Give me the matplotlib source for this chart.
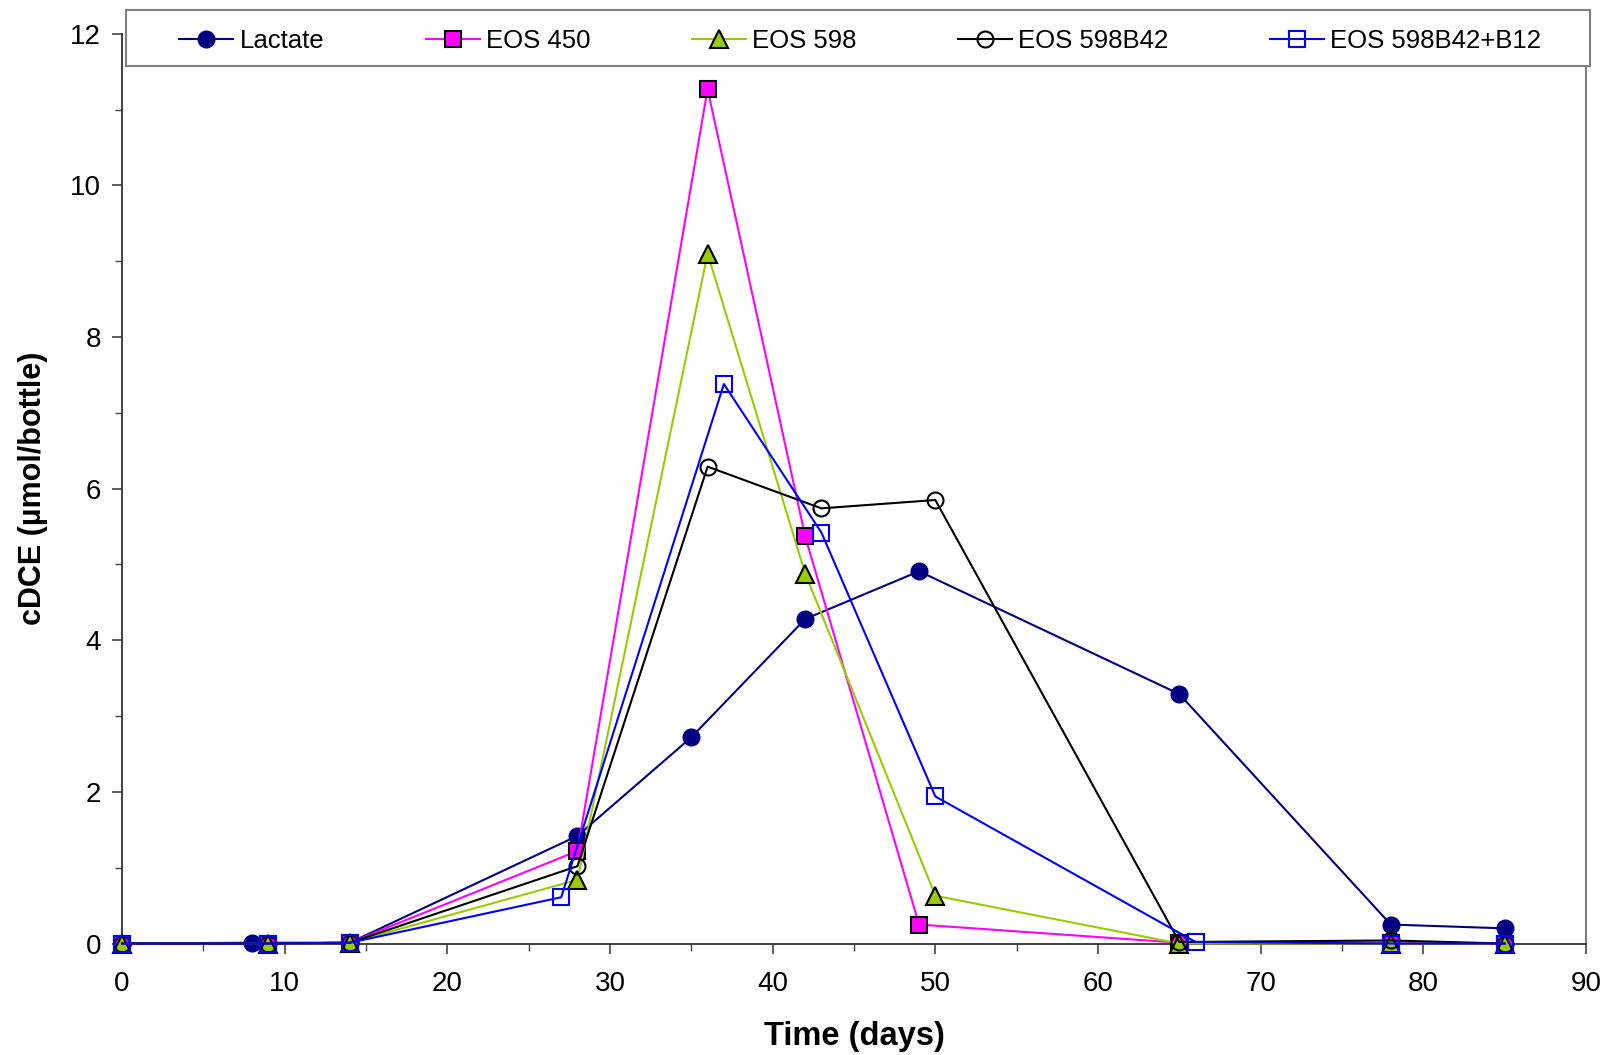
import matplotlib
matplotlib.use("Agg")
import matplotlib.pyplot as plt
from matplotlib.ticker import MultipleLocator
from matplotlib.patches import Rectangle

plt.rcParams['font.family'] = ['Liberation Sans', 'DejaVu Sans']

# Data
lactate_x = [0, 8, 14, 28, 35, 42, 49, 65, 78, 85]
lactate_y = [0.0, 0.01, 0.01, 1.42, 2.72, 4.28, 4.91, 3.29, 0.25, 0.20]

eos450_x = [0, 9, 14, 28, 36, 42, 49, 65, 78, 85]
eos450_y = [0.0, 0.0, 0.01, 1.22, 11.27, 5.37, 0.25, 0.01, 0.01, 0.0]

eos598_x = [0, 9, 14, 28, 36, 42, 50, 65, 78, 85]
eos598_y = [0.0, 0.0, 0.01, 0.84, 9.10, 4.88, 0.63, 0.0, 0.0, 0.0]

b42_x = [0, 9, 14, 28, 36, 43, 50, 65, 78, 85]
b42_y = [0.0, 0.0, 0.01, 1.02, 6.29, 5.74, 5.85, 0.02, 0.04, 0.0]

b12_x = [0, 9, 14, 27, 37, 43, 50, 66, 78, 85]
b12_y = [0.0, 0.0, 0.01, 0.61, 7.38, 5.42, 1.94, 0.02, 0.0, 0.0]

labels = ["Lactate", "EOS 450", "EOS 598", "EOS 598B42", "EOS 598B42+B12"]

W, H = 1608, 1055
fig = plt.figure(figsize=(W/100, H/100), dpi=100)
ax = fig.add_axes([122/W, 111.5/H, (1586-122)/W, (943.5-33.8)/H])

lw = 1.5
ax.plot(lactate_x, lactate_y, color='#000080', lw=lw, marker='o', ms=12,
        mfc='#000080', mec='#000080', label=labels[0], clip_on=False, zorder=3)
ax.plot(eos450_x, eos450_y, color='#FF00FF', lw=lw, marker='s', ms=11.5,
        mfc='#FF00FF', mec='black', mew=1.5, label=labels[1], clip_on=False, zorder=3)
ax.plot(eos598_x, eos598_y, color='#99CC00', lw=lw, marker='^', ms=12.5,
        mfc='#99CC00', mec='black', mew=1.5, label=labels[2], clip_on=False, zorder=3)
ax.plot(b42_x, b42_y, color='black', lw=lw, marker='o', ms=11.5,
        mfc='none', mec='black', mew=1.5, label=labels[3], clip_on=False, zorder=3)
ax.plot(b12_x, b12_y, color='#0000FF', lw=lw, marker='s', ms=11.5,
        mfc='none', mec='#0000FF', mew=1.5, label=labels[4], clip_on=False, zorder=3)

ax.set_xlim(0, 90)
ax.set_ylim(0, 12)
ax.xaxis.set_major_locator(MultipleLocator(10))
ax.xaxis.set_minor_locator(MultipleLocator(5))
ax.yaxis.set_major_locator(MultipleLocator(2))
ax.yaxis.set_minor_locator(MultipleLocator(1))
ax.tick_params(which='major', direction='out', length=7, width=1.2, labelsize=20,
               color='#444444')
ax.tick_params(axis='x', which='major', pad=13)
ax.tick_params(axis='y', which='major', pad=8)
ax.tick_params(which='minor', direction='out', length=5, width=1.0, color='#444444')

for s in ['left', 'bottom']:
    ax.spines[s].set_linewidth(1.3)
    ax.spines[s].set_color('#333333')
ax.spines['right'].set_color('#808080')
ax.spines['right'].set_linewidth(1.5)
ax.spines['top'].set_visible(False)

ax.set_xlabel("Time (days)", fontsize=23.5, fontweight='bold', labelpad=17)
ax.set_ylabel("cDCE (\u00b5mol/bottle)", fontsize=22, fontweight='bold', labelpad=16)

# legend frame
fig.patches.append(Rectangle((126/W, 1-66/H), (1590-126)/W, 56/H,
                             transform=fig.transFigure, facecolor='white',
                             edgecolor='#808080', linewidth=1.5, zorder=5))
leg = fig.legend(loc='center', ncol=5, mode='expand',
                 bbox_to_anchor=(179.5/W, 1-69/H, (1541-179.5)/W, 56/H),
                 fontsize=18.5, frameon=False, handlelength=2.1,
                 handletextpad=0.25, borderaxespad=0, borderpad=0)
leg.set_zorder(6)

fig.savefig("out.png", dpi=100)
